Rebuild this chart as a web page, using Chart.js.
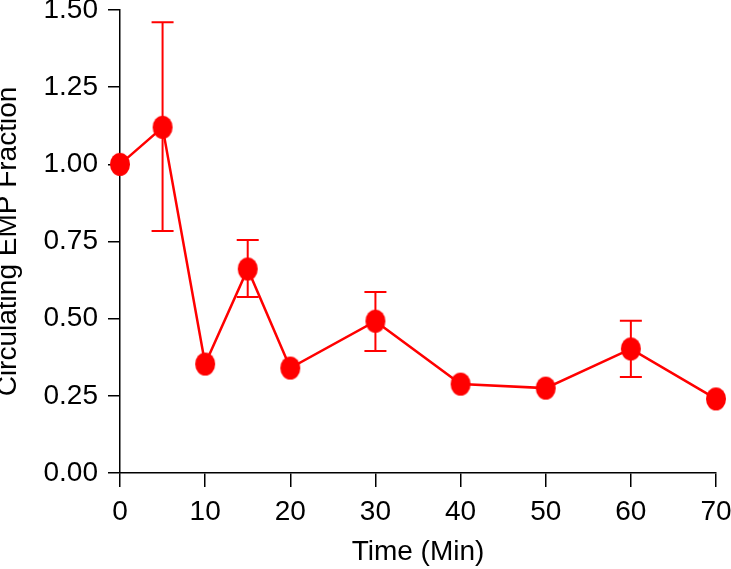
<!DOCTYPE html>
<html>
<head>
<meta charset="utf-8">
<script src="https://cdn.jsdelivr.net/npm/chart.js@4"></script>
<style>
  html, body { margin: 0; padding: 0; background: #fff; }
  #wrap { position: relative; width: 731px; height: 569px; }
</style>
</head>
<body>
<div id="wrap"><canvas id="chart"></canvas></div>
<script>
// dados
const tempos   = [0, 5, 10, 15, 20, 30, 40, 50, 60, 70]
const fracao   = [1.00, 1.12, 0.353, 0.661, 0.340, 0.492, 0.288, 0.275, 0.402, 0.240]
const erroSup  = [null, 1.46, null, 0.755, null, 0.586, null, null, 0.493, null]
const erroInf  = [null, 0.784, null, 0.570, null, 0.395, null, null, 0.311, null]
const ticksY   = [0, 0.25, 0.5, 0.75, 1.0, 1.25, 1.5]

const VERMELHO = '#f00'
const FONTE    = '"Liberation Sans", Helvetica, Arial, sans-serif'
const SEM_PAD  = () => ({ left: 0, top: 0, right: 0, bottom: 0 })

// marcador elíptico (um pouco mais alto que largo)
function criarMarcador() {
  const c = document.createElement('canvas')
  c.width = 22; c.height = 25
  const g = c.getContext('2d')
  g.fillStyle = VERMELHO
  g.beginPath()
  g.ellipse(11, 12.5, 10, 11.5, 0, 0, Math.PI * 2)
  g.fill()
  return c
}

const barrasErro = {
  id: 'barrasErro',
  beforeDatasetsDraw(chart) {
    const { ctx, scales: { x, y } } = chart
    ctx.save()
    ctx.strokeStyle = VERMELHO
    ctx.lineWidth = 2
    tempos.forEach((t, i) => {
      if (erroSup[i] == null) return
      const px = x.getPixelForValue(t)
      const yTop = y.getPixelForValue(erroSup[i])
      const yBot = y.getPixelForValue(erroInf[i])
      ctx.beginPath()
      ctx.moveTo(px, yTop); ctx.lineTo(px, yBot)
      ctx.moveTo(px - 11, yTop); ctx.lineTo(px + 11, yTop)
      ctx.moveTo(px - 11, yBot); ctx.lineTo(px + 11, yBot)
      ctx.stroke()
    })
    ctx.restore()
  }
}

new Chart(document.getElementById('chart'), {
  type: 'line',
  data: {
    datasets: [{
      data: tempos.map((t, i) => ({ x: t, y: fracao[i] })),
      borderColor: VERMELHO,
      backgroundColor: VERMELHO,
      borderWidth: 2.5,
      pointStyle: criarMarcador(),
      pointRadius: 11,
      tension: 0,
      clip: false,
    }],
  },
  options: {
    responsive: true,
    maintainAspectRatio: false,
    animation: false,
    layout: { autoPadding: false, padding: { top: 10, right: 15, left: 0, bottom: 0 } },
    plugins: { legend: { display: false }, tooltip: { enabled: false } },
    scales: {
      x: {
        type: 'linear',
        min: 0, max: 70,
        border: { display: true, color: '#000', width: 1.5 },
        grid: { drawOnChartArea: false, drawTicks: true, tickLength: 14, color: '#000', lineWidth: 1.5 },
        ticks: { stepSize: 10, color: '#000', padding: 8, font: { family: FONTE, size: 28 } },
        title: {
          display: true, text: 'Time (Min)', color: '#000',
          padding: 0, font: { family: FONTE, size: 28, lineHeight: 1.2 },
        },
        afterFit: s => { s.height = 96; s.paddingLeft = 0; s.paddingRight = 0; s.getPadding = SEM_PAD },
      },
      y: {
        type: 'linear',
        min: 0, max: 1.5,
        border: { display: true, color: '#000', width: 1.5 },
        grid: { drawOnChartArea: false, drawTicks: true, tickLength: 12, color: '#000', lineWidth: 1.5 },
        afterBuildTicks: s => { s.ticks = ticksY.map(v => ({ value: v })) },
        ticks: {
          color: '#000', padding: 10, font: { family: FONTE, size: 28 },
          callback: v => v.toFixed(2),
        },
        title: {
          display: true, text: 'Circulating EMP Fraction', color: '#000',
          padding: { top: 5, bottom: 0 }, font: { family: FONTE, size: 28, lineHeight: 0.27 },
        },
        afterFit: s => { s.width = 120; s.paddingTop = 0; s.paddingBottom = 0; s.getPadding = SEM_PAD },
      },
    },
  },
  plugins: [barrasErro],
})
</script>
</body>
</html>
